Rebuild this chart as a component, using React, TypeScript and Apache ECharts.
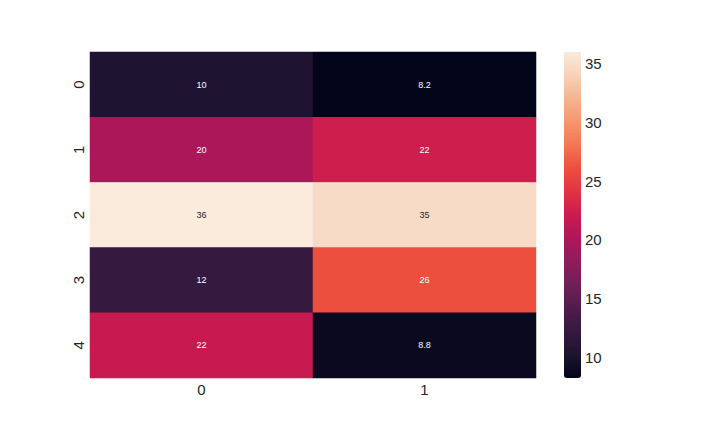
import React, { useEffect, useRef } from "react";
import * as echarts from "echarts";

const xCategories = ["0", "1"];
const yCategories = ["0", "1", "2", "3", "4"];
// values[row][col]
const values = [
  [10.3, 8.24],
  [20.1, 22.4],
  [36.0, 34.8],
  [12.2, 26.1],
  [21.8, 8.8],
];
const colorbarTicks = [10, 15, 20, 25, 30, 35];
const rocket = [
  "#03051a", "#1d1430", "#35193e", "#4f1c4b", "#701f57", "#8e1d5b", "#ad1759", "#cb1b4f",
  "#e13342", "#ec4f3e", "#f37651", "#f5966e", "#f6b48f", "#f7d1b7", "#faebdd",
];

const FONT = "'Liberation Sans', Arial, sans-serif";
const TXT = "#262626";

function hexToRgb(h: string) {
  const n = parseInt(h.slice(1), 16);
  return [(n >> 16) & 255, (n >> 8) & 255, n & 255];
}
function colorAt(t: number) {
  const p = Math.max(0, Math.min(1, t)) * (rocket.length - 1);
  const i = Math.min(rocket.length - 2, Math.floor(p));
  const f = p - i;
  const a = hexToRgb(rocket[i]);
  const b = hexToRgb(rocket[i + 1]);
  return a.map((v, k) => v + (b[k] - v) * f);
}
function luminance(rgb: number[]) {
  const c = rgb.map((v) => {
    const s = v / 255;
    return s <= 0.03928 ? s / 12.92 : Math.pow((s + 0.055) / 1.055, 2.4);
  });
  return 0.2126 * c[0] + 0.7152 * c[1] + 0.0722 * c[2];
}
function fmt2g(v: number) {
  return String(Number(v.toPrecision(2)));
}

export default function App() {
  const ref = useRef<HTMLDivElement>(null);
  useEffect(() => {
    const chart = echarts.init(ref.current!, undefined, { renderer: "svg" });
    const flat = values.flat();
    const vmin = Math.min(...flat);
    const vmax = Math.max(...flat);
    const data: any[] = [];
    values.forEach((row, r) =>
      row.forEach((v, c) => {
        const lum = luminance(colorAt((v - vmin) / (vmax - vmin)));
        data.push({
          value: [c, r, v],
          label: { color: lum > 0.408 ? TXT : "#ffffff" },
        });
      })
    );
    chart.setOption({
      animation: false,
      backgroundColor: "#ffffff",
      textStyle: { fontFamily: FONT },
      grid: [
        { left: 90, right: 184, top: 52, bottom: 54 },
        { left: 564, width: 17, top: 52, height: 326 },
      ],
      xAxis: [
        {
          type: "category",
          data: xCategories,
          gridIndex: 0,
          axisLine: { show: false },
          axisTick: { show: false },
          splitLine: { show: false },
          axisLabel: { color: TXT, fontSize: 15, fontFamily: FONT, margin: 4 },
        },
        { type: "value", gridIndex: 1, show: false, min: 0, max: 1 },
      ],
      yAxis: [
        {
          type: "category",
          data: yCategories,
          inverse: true,
          gridIndex: 0,
          axisLine: { show: false },
          axisTick: { show: false },
          splitLine: { show: false },
          axisLabel: { color: TXT, fontSize: 15, fontFamily: FONT, rotate: 90, margin: 4 },
        },
        {
          type: "value",
          gridIndex: 1,
          position: "right",
          min: vmin,
          max: vmax,
          axisLine: { show: false },
          axisTick: { show: false },
          splitLine: { show: false },
          axisLabel: {
            customValues: colorbarTicks,
            color: TXT,
            fontSize: 15,
            fontFamily: FONT,
            margin: 4,
            formatter: (v: number) => String(v),
          },
        },
      ],
      visualMap: {
        type: "continuous",
        min: vmin,
        max: vmax,
        dimension: 2,
        seriesIndex: 0,
        calculable: false,
        realtime: false,
        left: 564,
        top: 52,
        itemWidth: 17,
        itemHeight: 326,
        text: ["", ""],
        showLabel: false,
        padding: 0,
        inRange: { color: rocket },
        hoverLink: false,
      },
      series: [
        {
          type: "heatmap",
          xAxisIndex: 0,
          yAxisIndex: 0,
          data,
          label: {
            show: true,
            fontSize: 9,
            fontFamily: FONT,
            formatter: (p: any) => fmt2g(p.value[2]),
          },
          itemStyle: { borderWidth: 0 },
          emphasis: { disabled: true },
        },
      ],
    });
    return () => chart.dispose();
  }, []);
  return <div ref={ref} style={{ width: 720, height: 432, position: "absolute", left: 0, top: 0 }} />;
}
